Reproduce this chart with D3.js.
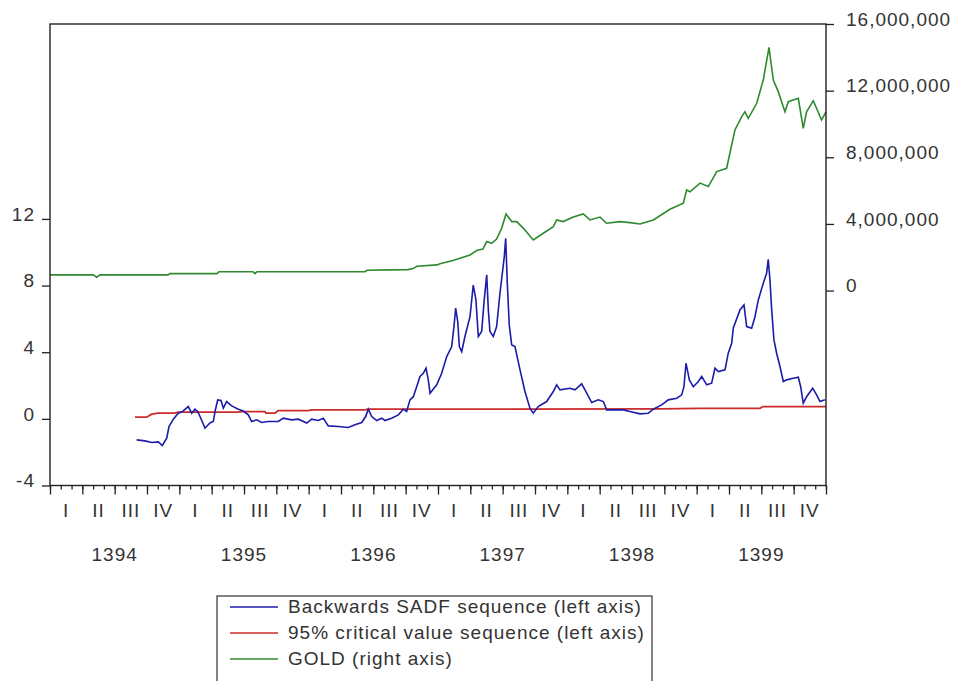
<!DOCTYPE html>
<html>
<head>
<meta charset="utf-8">
<script src="https://cdn.jsdelivr.net/npm/d3@7"></script>
<style>
  body { margin: 0; background: #fff; }
  text { font-family: "Liberation Sans", Arial, sans-serif; font-size: 19px; letter-spacing: 1px; fill: #333; }
</style>
</head>
<body>
<div id="chart"></div>
<script>
// time is counted in months from the start of 1394 (0..72)
const years = [1394, 1395, 1396, 1397, 1398, 1399];
const quarterNames = ["I", "II", "III", "IV"];
const leftTicks  = [-4, 0, 4, 8, 12];
const rightTicks = [0, 4000000, 8000000, 12000000, 16000000];

// Backwards SADF sequence [month, value]
const sadf = [
  [8.04,-1.26],[8.81,-1.32],[9.44,-1.42],[10.05,-1.38],[10.42,-1.60],[10.83,-1.16],[11.04,-0.46],
  [11.44,-0.02],[11.90,0.34],[12.22,0.41],[12.83,0.74],[13.15,0.34],[13.45,0.58],[13.70,0.44],
  [13.92,0.14],[14.38,-0.56],[14.84,-0.25],[15.15,-0.16],[15.31,0.44],[15.56,1.14],[15.87,1.10],
  [16.08,0.64],[16.39,1.04],[16.86,0.78],[17.47,0.58],[17.93,0.47],[18.40,0.24],[18.71,-0.16],
  [19.18,-0.06],[19.64,-0.22],[20.25,-0.16],[21.18,-0.16],[21.65,0.04],[22.43,-0.06],[23.04,-0.02],
  [23.82,-0.25],[24.28,-0.02],[24.89,-0.10],[25.36,0.04],[25.82,-0.42],[26.75,-0.46],[27.68,-0.52],
  [28.30,-0.36],[28.92,-0.22],[29.29,0.14],[29.53,0.58],[29.85,0.14],[30.31,-0.10],[30.78,0.04],
  [31.08,-0.10],[31.70,0.04],[32.32,0.24],[32.78,0.58],[33.09,0.44],[33.40,1.14],[33.71,1.33],
  [34.02,1.93],[34.33,2.54],[34.64,2.74],[34.89,3.04],[35.10,2.34],[35.26,1.54],[35.88,2.04],
  [36.34,2.74],[36.81,3.74],[37.27,4.34],[37.48,5.54],[37.64,6.65],[37.83,5.84],[37.98,4.34],
  [38.20,4.03],[38.50,4.94],[38.97,6.13],[39.27,8.03],[39.52,7.14],[39.74,4.94],[40.05,5.24],
  [40.29,7.14],[40.52,8.64],[40.67,6.54],[40.82,5.24],[41.13,4.94],[41.44,5.54],[41.75,7.54],
  [42.15,9.74],[42.28,10.84],[42.43,8.14],[42.61,5.64],[42.84,4.44],[43.14,4.34],[43.61,2.94],
  [44.07,1.64],[44.53,0.64],[44.84,0.34],[45.30,0.74],[46.08,1.04],[46.70,1.64],[47.01,2.04],
  [47.32,1.74],[48.25,1.84],[48.71,1.74],[49.33,2.10],[49.80,1.54],[50.26,0.98],[50.87,1.14],
  [51.34,1.04],[51.65,0.54],[53.19,0.54],[53.81,0.44],[54.74,0.30],[55.51,0.34],[55.98,0.58],
  [56.75,0.84],[57.37,1.14],[58.15,1.24],[58.61,1.44],[58.82,1.93],[59.01,3.34],[59.17,2.84],
  [59.32,2.34],[59.69,1.93],[60.15,2.24],[60.47,2.54],[60.93,2.04],[61.39,2.14],[61.70,3.04],
  [62.01,2.84],[62.63,2.94],[62.93,3.94],[63.25,4.54],[63.40,5.46],[64.02,6.54],[64.39,6.84],
  [64.64,5.54],[65.10,5.44],[65.41,6.13],[65.72,7.14],[66.18,8.14],[66.49,8.74],[66.64,9.58],
  [66.80,8.34],[66.96,6.54],[67.17,4.74],[67.42,3.94],[67.73,3.14],[68.04,2.24],[68.35,2.34],
  [68.96,2.44],[69.43,2.50],[69.65,1.93],[69.89,0.94],[70.20,1.33],[70.76,1.84],[71.13,1.44],
  [71.44,1.04],[71.90,1.14]
];

// 95% critical value sequence [month, value]
const critical = [
  [7.89,0.10],[8.97,0.10],[9.44,0.28],[10.02,0.34],[11.60,0.34],[11.88,0.41],[17.44,0.41],
  [17.81,0.43],[19.95,0.43],[20.04,0.34],[20.88,0.34],[21.15,0.49],[23.94,0.49],[24.31,0.54],
  [29.23,0.54],[29.50,0.58],[56.60,0.60],[60.31,0.63],[65.87,0.63],[66.15,0.74],[72.00,0.74]
];

// GOLD [month, price]
const gold = [
  [0,940000],[3.99,940000],[4.33,800000],[4.64,940000],[10.95,940000],[11.13,1020000],
  [15.49,1020000],[15.68,1130000],[18.83,1130000],[19.02,1020000],[19.21,1130000],[29.23,1130000],
  [29.41,1220000],[31.55,1240000],[33.22,1260000],[33.68,1320000],[34.05,1460000],[35.91,1540000],
  [36.18,1610000],[37.39,1800000],[38.04,1940000],[38.97,2140000],[39.59,2400000],[40.17,2490000],
  [40.52,2940000],[40.98,2840000],[41.44,3090000],[41.91,3750000],[42.31,4600000],[42.84,4140000],
  [43.30,4140000],[43.91,3750000],[44.84,3040000],[45.77,3440000],[46.70,3840000],[47.01,4240000],
  [47.62,4140000],[48.55,4410000],[49.48,4600000],[50.10,4240000],[51.03,4410000],[51.65,4040000],
  [52.88,4140000],[53.81,4080000],[54.74,4000000],[55.98,4240000],[57.52,4880000],[58.76,5250000],
  [59.07,6040000],[59.38,5930000],[60.31,6450000],[61.08,6240000],[61.86,7140000],[62.78,7340000],
  [63.55,9640000],[64.18,10440000],[64.48,10730000],[64.79,10340000],[65.57,11240000],[66.18,12640000],
  [66.71,14600000],[67.11,12640000],[67.57,11940000],[68.19,10730000],[68.50,11340000],[69.43,11540000],
  [69.89,9740000],[70.20,10730000],[70.82,11400000],[71.59,10240000],[72.00,10730000]
];

const seriesNames = [
  "Backwards SADF sequence (left axis)",
  "95% critical value sequence (left axis)",
  "GOLD (right axis)"
];
const seriesColors = ["#1c1ca8", "#cc2b2b", "#2f8a2f"];

// Layout
const width = 954, height = 681;
const plot = { left: 50, top: 24, right: 826, bottom: 485.5 };

const svg = d3.select("#chart")
  .append("svg")
    .attr("width", width)
    .attr("height", height);

svg.append("rect").attr("width", width).attr("height", height).attr("fill", "#fff");

// Scales
const x = d3.scaleLinear().domain([0, 72]).range([plot.left, plot.right]);
const yLeft  = d3.scaleLinear().domain([-4, 23.7]).range([plot.bottom, plot.top]);
const yRight = d3.scaleLinear().domain([-11700000, 16000000]).range([plot.bottom, plot.top]);

// Left axis (plain hyphen for negatives, like the original)
const gl = svg.append("g")
  .attr("transform", `translate(${plot.left},0)`)
  .call(d3.axisLeft(yLeft).tickValues(leftTicks).tickSize(8).tickPadding(7)
    .tickFormat(d => String(d)));

// Right axis
const gr = svg.append("g")
  .attr("transform", `translate(${plot.right},0)`)
  .call(d3.axisRight(yRight).tickValues(rightTicks).tickSize(8).tickPadding(12)
    .tickFormat(d3.format(",")));

// X axis: month minor ticks, quarter major ticks
const gxMinor = svg.append("g")
  .attr("transform", `translate(0,${plot.bottom})`)
  .call(d3.axisBottom(x).tickValues(d3.range(0, 73)).tickSize(4).tickFormat(""));
const gxMajor = svg.append("g")
  .attr("transform", `translate(0,${plot.bottom})`)
  .call(d3.axisBottom(x).tickValues(d3.range(0, 73, 3)).tickSize(9).tickFormat(""));

[gl, gr, gxMinor, gxMajor].forEach(g => {
  g.select(".domain").remove();
  g.selectAll(".tick line").attr("stroke", "#222").attr("stroke-width", 1.3);
  g.selectAll(".tick text")
    .attr("font-family", null).attr("font-size", null).attr("fill", null)
    .attr("dy", null).attr("y", null);
});
gl.selectAll(".tick text").attr("dy", "0.28em").attr("y", -4);
gr.selectAll(".tick text").attr("dy", "0.28em").attr("y", -4);

// Quarter labels and year labels
svg.append("g").selectAll("text")
  .data(d3.range(24))
  .join("text")
    .attr("x", d => x(d * 3 + 1.5))
    .attr("y", 517)
    .attr("text-anchor", "middle")
    .text(d => quarterNames[d % 4]);

svg.append("g").selectAll("text")
  .data(years)
  .join("text")
    .attr("x", (d, i) => x(i * 12 + 6))
    .attr("y", 561)
    .attr("text-anchor", "middle")
    .text(d => d);

// Lines
const lineL = d3.line().x(d => x(d[0])).y(d => yLeft(d[1]));
const lineR = d3.line().x(d => x(d[0])).y(d => yRight(d[1]));

svg.append("path").datum(gold)
  .attr("fill", "none").attr("stroke", seriesColors[2]).attr("stroke-width", 1.6)
  .attr("d", lineR);
svg.append("path").datum(critical)
  .attr("fill", "none").attr("stroke", seriesColors[1]).attr("stroke-width", 1.8)
  .attr("d", lineL);
svg.append("path").datum(sadf)
  .attr("fill", "none").attr("stroke", seriesColors[0]).attr("stroke-width", 1.6)
  .attr("d", lineL);

// Frame
svg.append("rect")
  .attr("x", plot.left).attr("y", plot.top)
  .attr("width", plot.right - plot.left).attr("height", plot.bottom - plot.top)
  .attr("fill", "none").attr("stroke", "#222").attr("stroke-width", 1.4);

// Legend
const legend = svg.append("g");
legend.append("rect")
  .attr("x", 217).attr("y", 596).attr("width", 435).attr("height", 100)
  .attr("fill", "#fff").attr("stroke", "#333").attr("stroke-width", 1.2);

seriesNames.forEach((name, i) => {
  const ly = 607 + i * 26;
  legend.append("line")
    .attr("x1", 230).attr("x2", 278).attr("y1", ly).attr("y2", ly)
    .attr("stroke", seriesColors[i]).attr("stroke-width", 1.6);
  legend.append("text")
    .attr("x", 288).attr("y", ly + 6)
    .text(name);
});
</script>
</body>
</html>
